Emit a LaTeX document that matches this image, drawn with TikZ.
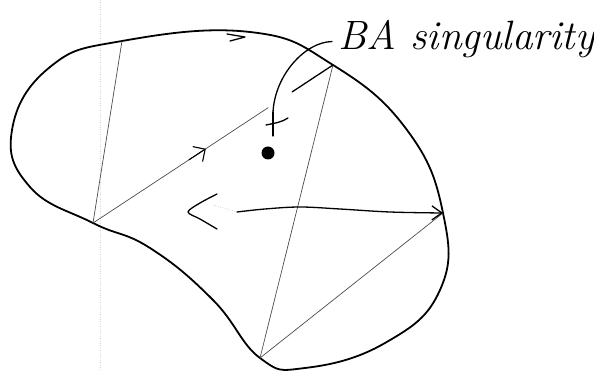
\documentclass[tikz,border=0pt]{standalone}
\usetikzlibrary{calc,arrows.meta}
\tikzset{
    lab/.style={
        font=\fontsize{41}{48}\selectfont\itshape, inner sep=0pt
    },
    rim/.style={line width=1.8pt},
    chord/.style={line width=0.7pt, black!70},
    stroke/.style={line width=1.3pt}
}
\begin{document}
\begin{tikzpicture}[x=1pt,y=-1pt,line cap=round,line join=round]
\useasboundingbox (0,0) rectangle (594,371);

% faint margin line of the scanned page
\draw[gray!45, dotted, line width=0.4pt] (100,0) -- (100,371);

% corners on the rim
\coordinate (TL) at (122,41);
\coordinate (A) at (333,65);
\coordinate (R) at (443,213);
\coordinate (B) at (260,358);
\coordinate (L) at (93,223);

% the domain
\draw[rim] plot[smooth cycle, tension=0.75] coordinates {
  (TL) (250,32) (A) (407,130) (R)
  (440,290) (385,343) (305,368) (B)
  (213,300) (150,248) (L) (30,187)
  (12,130) (50,67)};

% arrow mark on top of the rim
\draw[stroke] (227,34) -- (245,37) -- (230,41);

% chords
\draw[chord] (TL) -- (L);
\draw[chord] (A) -- (B);
\draw[chord] (R) -- (B);
\draw[chord] (L) -- ($(L)!0.73!(A)$);
\draw[stroke] ($(L)!0.83!(A)$) -- (A);
\draw[line width=1.1pt, -{Straight Barb[length=9pt,width=18pt]}] ($(L)!0.40!(A)$) -- ($(L)!0.47!(A)$);

% horizontal arrow to the right corner
\coordinate (H) at (237,212);
\draw[gray!60, line width=0.5pt, dotted] (213,205) -- (H);
\draw[stroke, -{Straight Barb[length=10pt,width=14pt]}] plot[smooth, tension=0.6] coordinates {(H) (265,209) (300,207) (340,209) (390,212) (R)};

% open tip at its left end
\draw[stroke] plot[smooth] coordinates {(217,194) (200,203) (188,212) (200,219) (217,229)};

% the singularity and its mark
\node[circle, fill=black, minimum size=13pt, inner sep=0pt] (sing) at (268,153) {};
\coordinate (P) at (273,112);
\draw[stroke] (P) -- (273,136);
\draw[stroke] (266,125) .. controls (276,123) and (282,122) .. (288,118);

% label
\node[lab, anchor=base west] (name) at (338,50) {BA singularity};
\draw[stroke] ($(name.west)+(-6,2)$) .. controls (305,42) and (275,75) .. (P);

\end{tikzpicture}
\end{document}
